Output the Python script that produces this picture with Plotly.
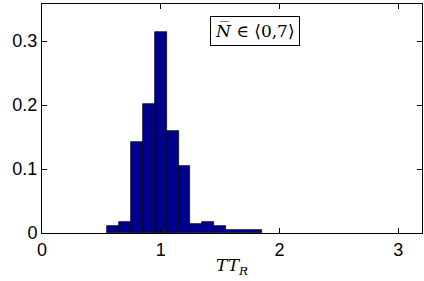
import plotly.graph_objects as go

############################################################
# DATA
############################################################

bin_centers = [0.6, 0.7, 0.8, 0.9, 1.0, 1.1, 1.2, 1.3, 1.4, 1.5, 1.6, 1.7, 1.8]

frequency = [0.011, 0.017, 0.142, 0.202, 0.315, 0.160, 0.104,
             0.014, 0.017, 0.011, 0.005, 0.005, 0.005]

x_ticks = [0, 1, 2, 3]

y_ticks = [0, 0.1, 0.2, 0.3]

y_tick_labels = ["0", "0.1", "0.2", "0.3"]


############################################################
# HISTOGRAM
############################################################

fig = go.Figure(

    go.Bar(

        x=bin_centers,

        y=frequency,

        width=0.1,

        marker=dict(color="#00008F", line=dict(color="black", width=0.7))

    )

)

axis_style = dict(

    showline=True,

    linecolor="black",

    linewidth=1,

    mirror="ticks",

    ticks="inside",

    ticklen=5,

    tickcolor="black",

    showgrid=False,

    zeroline=False,

    automargin=False,

    tickfont=dict(family="Liberation Sans, Arial", size=18, color="black")

)

fig.update_xaxes(

    range=[0, 3.2],

    tickvals=x_ticks,

    **axis_style

)

fig.update_yaxes(

    range=[0, 0.358],

    tickvals=y_ticks,

    ticktext=y_tick_labels,

    **axis_style

)

# x axis label
fig.add_annotation(

    x=0.5,

    y=-0.145,

    xref="paper",

    yref="paper",

    yanchor="middle",

    text="<i>TT</i><sub><i>R</i></sub>",

    showarrow=False,

    font=dict(family="DejaVu Serif, Liberation Serif", size=17, color="black")

)

# legend-like box
fig.add_annotation(

    x=0.56,

    y=0.88,

    xref="paper",

    yref="paper",

    xanchor="center",

    yanchor="middle",

    text="<i>N\u0305</i> \u2208 \u27e80,7\u27e9",

    showarrow=False,

    font=dict(family="DejaVu Serif, Liberation Serif", size=17, color="black"),

    bordercolor="black",

    borderwidth=1,

    borderpad=4,

    bgcolor="white"

)

fig.update_layout(

    width=424,

    height=281,

    margin=dict(l=42, r=2, t=4, b=48),

    plot_bgcolor="white",

    paper_bgcolor="white",

    showlegend=False,

    bargap=0

)

fig.write_html(

    "out.html",

    config={"displayModeBar": False},

    post_script="document.body.style.margin='0';"

)
